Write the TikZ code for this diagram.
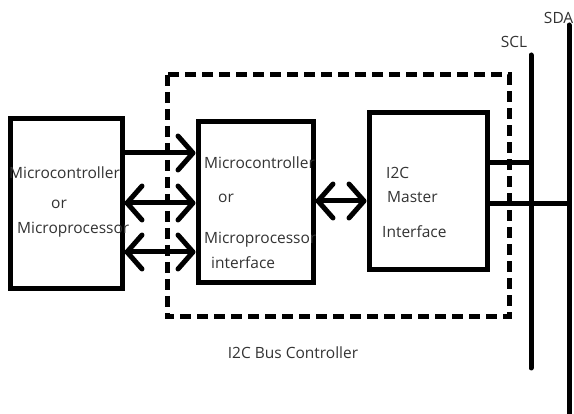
\documentclass[tikz,border=0pt]{standalone}
\usepackage{fontspec}
\setmainfont{Open Sans}
\usetikzlibrary{arrows.meta}
\tikzset{barb/.tip={Straight Barb[length=15pt,width=34pt,line width=5pt,round]}}
\begin{document}
\begin{tikzpicture}[x=1pt,y=-1pt,
  blk/.style={draw=black,line width=5pt,inner sep=0pt,fill=white},
  lbl/.style={font=\fontsize{15.5}{18}\selectfont,text=black!80,inner sep=0pt,anchor=west},
  arr/.style={line width=5pt,-barb},
  darr/.style={line width=5pt,barb-barb},
  bus/.style={line width=5pt,line cap=round}]
\useasboundingbox (0,0) rectangle (574,414);
% dashed controller boundary
\draw[line width=5pt,dash pattern=on 11pt off 6pt] (167,75) rectangle (509,317);
% boxes
\node[blk,minimum width=112pt,minimum height=170pt] (lb) at (66,204) {};
\node[blk,minimum width=115pt,minimum height=161pt] (mb) at (255.5,202.5) {};
\node[blk,minimum width=118pt,minimum height=157pt] (rb) at (428,191.5) {};
% bus lines
\coordinate (sclT) at (531,55);
\coordinate (sclB) at (531,368);
\coordinate (sdaT) at (569,25);
\coordinate (sdaB) at (569,416);
\draw[bus] (sclT) -- (sclB);
\draw[bus] (sdaT) -- (sdaB);
\coordinate (sclJ) at (534,163);
\coordinate (sdaJ) at (572,204);
\draw[line width=5pt] (rb.east |- sclJ) -- (sclJ);
\draw[line width=5pt] (rb.east |- sdaJ) -- (sdaJ);
% arrows
\coordinate (a1) at (0,153);
\coordinate (a2) at (0,203);
\coordinate (a3) at (0,252);
\coordinate (a4) at (0,201);
\draw[arr] (lb.east |- a1) -- (mb.west |- a1);
\draw[darr] (lb.east |- a2) -- (mb.west |- a2);
\draw[darr] (lb.east |- a3) -- (mb.west |- a3);
\draw[darr] (mb.east |- a4) -- (rb.west |- a4);
% texts
\node[lbl] (t1) at (9,173) {Microcontroller};
\node[lbl] (t2) at (51,204) {or};
\node[lbl] (t3) at (17,230) {Microprocessor};
\node[lbl] (t4) at (204,163) {Microcontroller};
\node[lbl] (t5) at (218,198) {or};
\node[lbl] (t6) at (204,240) {Microprocessor};
\node[lbl] (t7) at (211,263) {interface};
\node[lbl] (t8) at (386,173) {I2C};
\node[lbl] (t9) at (387,197) {Master};
\node[lbl] (t10) at (382,232) {Interface};
\node[lbl,anchor=center] (t11) at (293,353) {I2C Bus Controller};
\node[lbl,anchor=center] (scl) at (514,42) {SCL};
\node[lbl,anchor=east] (sda) at (573.5,18) {SDA};
\end{tikzpicture}
\end{document}
